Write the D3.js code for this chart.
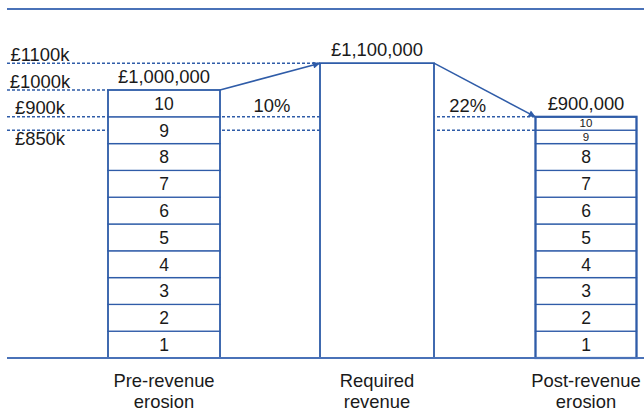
<!DOCTYPE html>
<html>
<head>
<meta charset="utf-8">
<script src="https://cdn.jsdelivr.net/npm/d3@7"></script>
<style>
  body { margin: 0; background: #fff; }
  text { font-family: "Liberation Sans", Arial, sans-serif; fill: #1a1a1a; }
</style>
</head>
<body>
<div id="chart"></div>
<script>
// columns
const categories = [["Pre-revenue", "erosion"], ["Required", "revenue"], ["Post-revenue", "erosion"]];
// decile segments (bottom to top), values in £
const deciles = ["1", "2", "3", "4", "5", "6", "7", "8", "9", "10"];
const preValues = [100000, 100000, 100000, 100000, 100000, 100000, 100000, 100000, 100000, 100000];
const requiredValue = 1100000;
const postValues = [100000, 100000, 100000, 100000, 100000, 100000, 100000, 100000, 50000, 50000];
const totalLabels = ["£1,000,000", "£1,100,000", "£900,000"];
// reference levels on the left
const refValues = [1100000, 1000000, 900000, 850000];
const refLabels = ["£1100k", "£1000k", "£900k", "£850k"];
const refEndColumn = [1, 0, 2, 2];
const pctLabels = ["10%", "22%"];

const width = 644, height = 416;
const blue = "#2f5ca8", axisBlue = "#4a72b8";
const bigFont = "18.4px";

const svg = d3.select("#chart").append("svg")
  .attr("width", width)
  .attr("height", height);

svg.append("defs").append("marker")
  .attr("id", "arrow")
  .attr("viewBox", "0 0 10 10")
  .attr("refX", 10).attr("refY", 5)
  .attr("markerWidth", 10).attr("markerHeight", 7)
  .attr("markerUnits", "userSpaceOnUse")
  .attr("orient", "auto")
  .append("path")
    .attr("d", "M0,0L10,5L0,10Z")
    .attr("fill", blue);

// scales
const y = d3.scaleLinear().domain([0, 1000000]).range([358, 90]);
const x = d3.scalePoint().domain(d3.range(categories.length)).range([164, 586]);
const barW = [112, 114, 101];
const left = i => x(i) - barW[i] / 2 + (i === 1 ? 2 : 0);
const right = i => left(i) + barW[i];

const columns = [
  { values: preValues, total: d3.sum(preValues), stroke: 1.5 },
  { values: [requiredValue], total: requiredValue, stroke: 1.5 },
  { values: postValues, total: d3.sum(postValues), stroke: 2.2 }
];

// top rule
svg.append("line")
  .attr("x1", 7).attr("x2", width)
  .attr("y1", 9).attr("y2", 9)
  .attr("stroke", axisBlue).attr("stroke-width", 2);

// dashed reference lines
svg.selectAll(".ref")
  .data(refValues)
  .enter().append("line")
    .attr("x1", 7)
    .attr("x2", (d, i) => left(refEndColumn[i]))
    .attr("y1", d => y(d)).attr("y2", d => y(d))
    .attr("stroke", blue)
    .attr("stroke-width", 1.5)
    .attr("stroke-dasharray", "3,2");

svg.selectAll(".refLabel")
  .data(refValues)
  .enter().append("text")
    .attr("x", 40)
    .attr("y", (d, i) => i === 3 ? y(d) + 15 : y(d) - 2.5)
    .attr("text-anchor", "middle")
    .style("font-size", bigFont)
    .text((d, i) => refLabels[i]);

// stacked columns
columns.forEach((col, i) => {
  const g = svg.append("g");
  let acc = 0;
  const segs = col.values.map((v, j) => {
    const s = { y0: acc, y1: acc + v, label: col.values.length > 1 ? deciles[j] : "" };
    acc += v;
    return s;
  });
  g.selectAll("rect")
    .data(segs)
    .enter().append("rect")
      .attr("x", left(i))
      .attr("y", d => y(d.y1))
      .attr("width", barW[i])
      .attr("height", d => y(d.y0) - y(d.y1))
      .attr("fill", "#fff")
      .attr("stroke", blue)
      .attr("stroke-width", 1.3);
  // outer border
  g.append("rect")
    .attr("x", left(i)).attr("y", y(col.total))
    .attr("width", barW[i]).attr("height", y(0) - y(col.total))
    .attr("fill", "none")
    .attr("stroke", blue)
    .attr("stroke-width", col.stroke);
  g.selectAll(".seg")
    .data(segs)
    .enter().append("text")
      .attr("x", (left(i) + right(i)) / 2)
      .attr("y", d => (y(d.y0) + y(d.y1)) / 2)
      .attr("dy", d => (y(d.y0) - y(d.y1)) < 20 ? "0.34em" : "0.36em")
      .attr("text-anchor", "middle")
      .style("font-size", d => (y(d.y0) - y(d.y1)) < 20 ? "11.5px" : "17.5px")
      .text(d => d.label);
  svg.append("text")
    .attr("x", (left(i) + right(i)) / 2)
    .attr("y", y(col.total) - 7)
    .attr("text-anchor", "middle")
    .style("font-size", bigFont)
    .text(totalLabels[i]);
  svg.append("text")
    .attr("x", (left(i) + right(i)) / 2)
    .attr("y", 387)
    .attr("text-anchor", "middle")
    .style("font-size", bigFont)
    .selectAll("tspan")
    .data(categories[i])
    .enter().append("tspan")
      .attr("x", (left(i) + right(i)) / 2)
      .attr("dy", (d, k) => k === 0 ? 0 : 21)
      .text(d => d);
});

// arrows between column tops
[0, 1].forEach(i => {
  svg.append("line")
    .attr("x1", right(i)).attr("y1", y(columns[i].total))
    .attr("x2", left(i + 1)).attr("y2", y(columns[i + 1].total))
    .attr("stroke", blue)
    .attr("stroke-width", 1.5)
    .attr("marker-end", "url(#arrow)");
});

// percentage labels in the gaps
const pctDx = [2, -17];
pctLabels.forEach((p, i) => {
  svg.append("text")
    .attr("x", (right(i) + left(i + 1)) / 2 + pctDx[i])
    .attr("y", 112)
    .attr("text-anchor", "middle")
    .style("font-size", bigFont)
    .text(p);
});

// baseline
svg.append("line")
  .attr("x1", 7).attr("x2", width)
  .attr("y1", y(0)).attr("y2", y(0))
  .attr("stroke", axisBlue).attr("stroke-width", 2);
</script>
</body>
</html>
